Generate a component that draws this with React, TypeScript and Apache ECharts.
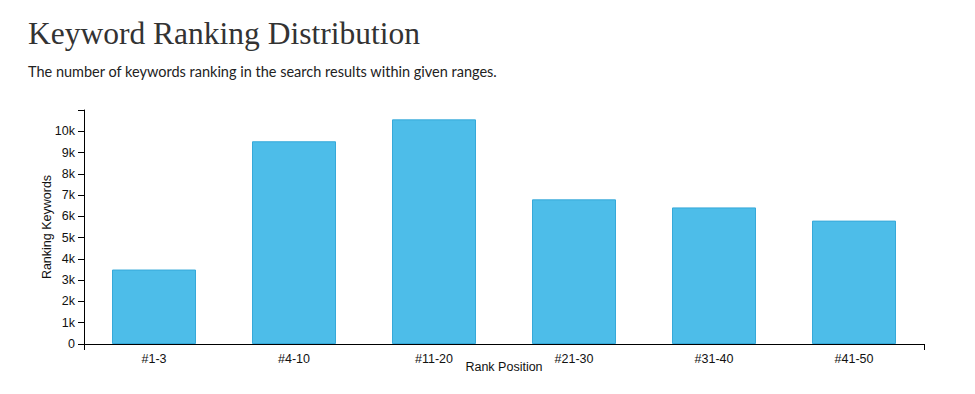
import React, { useEffect, useRef } from "react";
import * as echarts from "echarts";

const categories = ["#1-3", "#4-10", "#11-20", "#21-30", "#31-40", "#41-50"];
const keywordCounts = [3500, 9530, 10560, 6800, 6420, 5800];
const yTicks = [0, 1000, 2000, 3000, 4000, 5000, 6000, 7000, 8000, 9000, 10000];

const titleText = "Keyword Ranking Distribution";
const subtitleText = "The number of keywords ranking in the search results within given ranges.";

export default function App() {
  const ref = useRef<HTMLDivElement>(null);
  useEffect(() => {
    if (!ref.current) return;
    const chart = echarts.init(ref.current, null, { renderer: "svg" });
    const axisFont = { fontFamily: "Liberation Sans, Arial, sans-serif", fontSize: 12.5, color: "#111" };
    chart.setOption({
      animation: false,
      title: [
        {
          text: titleText,
          left: 28,
          top: 17,
          padding: 0,
          textStyle: { fontFamily: "Liberation Serif", fontWeight: "normal", fontSize: 31.5, color: "#333" },
        },
        {
          text: subtitleText,
          left: 28,
          top: 64,
          padding: 0,
          textStyle: { fontFamily: "Lato", fontWeight: "normal", fontSize: 14.5, color: "#222" },
        },
      ],
      grid: { left: 84, right: 51, top: 110, bottom: 50, containLabel: false },
      xAxis: [
        {
          type: "category",
          data: categories,
          name: "Rank Position",
          nameLocation: "middle",
          nameGap: 16,
          nameMoveOverlap: false,
          nameTextStyle: axisFont,
          axisLine: { lineStyle: { color: "#000", width: 1 } },
          axisTick: { alignWithLabel: true, length: 6, lineStyle: { color: "#000" } },
          axisLabel: { ...axisFont, margin: 8 },
        },
        {
          type: "value",
          position: "bottom",
          min: 0,
          max: 1,
          interval: 1,
          axisLine: { show: true, lineStyle: { color: "#000", width: 1 } },
          axisTick: { show: true, length: 6, lineStyle: { color: "#000" } },
          axisLabel: { show: false },
          splitLine: { show: false },
        },
      ],
      yAxis: {
        type: "value",
        min: 0,
        max: 11000,
        interval: 1000,
        name: "Ranking Keywords",
        nameLocation: "middle",
        nameGap: 31,
        nameMoveOverlap: false,
        nameRotate: 90,
        nameTextStyle: axisFont,
        axisLine: { show: true, lineStyle: { color: "#000", width: 1 } },
        axisTick: { show: true, length: 6, lineStyle: { color: "#000" } },
        splitLine: { show: false },
        axisLabel: {
          ...axisFont,
          margin: 9,
          formatter: (v: number) => (yTicks.includes(v) ? (v === 0 ? "0" : v / 1000 + "k") : ""),
        },
      },
      series: [
        {
          type: "bar",
          data: keywordCounts,
          xAxisIndex: 0,
          barCategoryGap: "40%",
          itemStyle: { color: "#4dbde9", borderColor: "#36a9d9", borderWidth: 1 },
        },
      ],
    });
    return () => chart.dispose();
  }, []);
  return <div ref={ref} style={{ position: "fixed", left: 0, top: 0, width: 975, height: 394, background: "#fff" }} />;
}
